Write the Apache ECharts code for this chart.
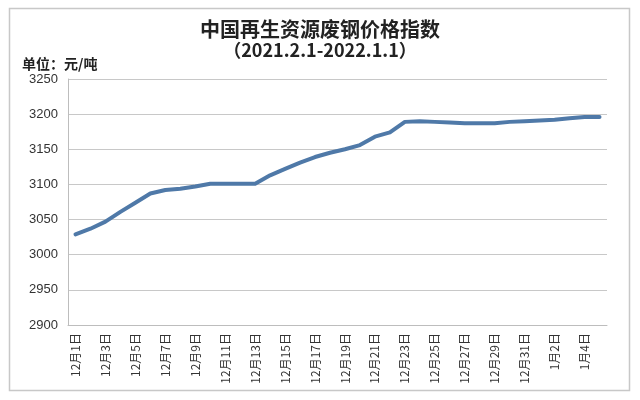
<!DOCTYPE html>
<html>
<head>
<meta charset="utf-8">
<script src="https://cdn.jsdelivr.net/npm/echarts@6/dist/echarts.min.js"></script>
<style>
html,body{margin:0;padding:0;background:#fff;}
#c{width:640px;height:400px;}
</style>
</head>
<body>
<div id="c"></div>
<script>
const titleText = '中国再生资源废钢价格指数';
const subtitleText = '（2021.2.1-2022.1.1）';
const unitText = '单位：元/吨';
const categories = [
  '12月1日','12月2日','12月3日','12月4日','12月5日','12月6日','12月7日','12月8日','12月9日','12月10日',
  '12月11日','12月12日','12月13日','12月14日','12月15日','12月16日','12月17日','12月18日','12月19日','12月20日',
  '12月21日','12月22日','12月23日','12月24日','12月25日','12月26日','12月27日','12月28日','12月29日','12月30日',
  '12月31日','1月1日','1月2日','1月3日','1月4日','1月5日'
];
const priceIndex = [
  3029,3037,3047,3061,3074,3087,3092,3094,3097,3101,
  3101,3101,3101,3113,3122,3131,3139,3145,3150,3156,
  3168,3174,3189,3190,3189,3188,3187,3187,3187,3189,
  3190,3191,3192,3194,3196,3196
];
const yMin = 2900, yMax = 3250, yStep = 50;

const chart = echarts.init(document.getElementById('c'));
const font = '"Liberation Sans", "Noto Sans CJK SC", sans-serif';
chart.setOption({
  animation: false,
  backgroundColor: '#fff',
  graphic: [
    { type: 'rect', shape: { x: 9.5, y: 8.5, width: 620, height: 382 },
      style: { fill: 'none', stroke: '#c8c8c8', lineWidth: 1.5 }, z: -1 },
    { type: 'text', left: 'center', top: 19,
      style: { text: titleText, font: 'bold 20px "Noto Sans CJK SC"', fill: '#222' } },
    { type: 'text', left: 'center', top: 41,
      style: { text: subtitleText, font: 'bold 18px "Noto Sans CJK SC"', fill: '#222' } },
    { type: 'text', left: 22, top: 57,
      style: { text: unitText, font: 'bold 14px "Noto Sans CJK SC"', fill: '#222' } }
  ],
  grid: { left: 68, right: 33, top: 79, bottom: 75 },
  xAxis: {
    type: 'category',
    data: categories,
    boundaryGap: true,
    axisLine: { lineStyle: { color: '#bdbdbd', width: 1 } },
    axisTick: { show: false },
    axisLabel: { interval: 1, rotate: 90, color: '#333', fontSize: 12, fontFamily: '"Noto Sans CJK SC"', margin: 8 }
  },
  yAxis: {
    type: 'value',
    min: yMin, max: yMax, interval: yStep,
    axisLine: { show: true, lineStyle: { color: '#bdbdbd', width: 1 } },
    axisTick: { show: false },
    splitLine: { lineStyle: { color: '#c8c8c8', width: 1.2 } },
    axisLabel: { color: '#333', fontSize: 13, fontFamily: font, margin: 10, formatter: v => String(v) }
  },
  series: [{
    type: 'line',
    data: priceIndex,
    symbol: 'none',
    lineStyle: { color: '#4f79a8', width: 4, cap: 'round', join: 'round' }
  }]
});
</script>
</body>
</html>
